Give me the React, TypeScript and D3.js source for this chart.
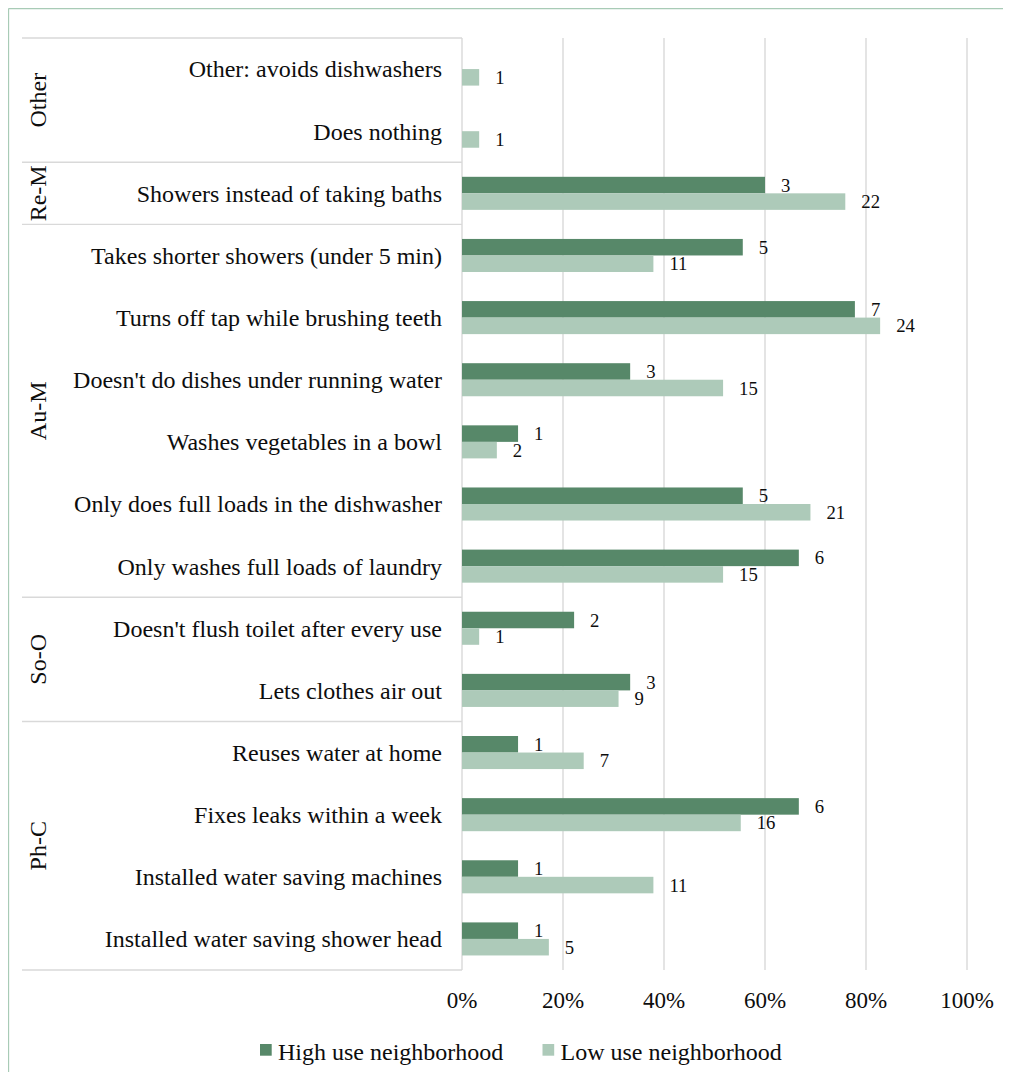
import React from "react";
import * as d3 from "d3";

// Survey of water-saving behaviours, share of respondents per neighbourhood type
const categories: string[] = [
  "Other: avoids dishwashers",
  "Does nothing",
  "Showers instead of taking baths",
  "Takes shorter showers (under 5 min)",
  "Turns off tap while brushing teeth",
  "Doesn't do dishes under running water",
  "Washes vegetables in a bowl",
  "Only does full loads in the dishwasher",
  "Only washes full loads of laundry",
  "Doesn't flush toilet after every use",
  "Lets clothes air out",
  "Reuses water at home",
  "Fixes leaks within a week",
  "Installed water saving machines",
  "Installed water saving shower head",
];

// share of respondents (0..1)
const highUse: number[] = [0, 0, 0.6, 0.556, 0.778, 0.333, 0.111, 0.556, 0.667, 0.222, 0.333, 0.111, 0.667, 0.111, 0.111];
const lowUse: number[] = [0.034, 0.034, 0.759, 0.379, 0.828, 0.517, 0.069, 0.69, 0.517, 0.034, 0.31, 0.241, 0.552, 0.379, 0.172];

// number of respondents shown beside each bar
const highCounts: (number | null)[] = [null, null, 3, 5, 7, 3, 1, 5, 6, 2, 3, 1, 6, 1, 1];
const lowCounts: (number | null)[] = [1, 1, 22, 11, 24, 15, 2, 21, 15, 1, 9, 7, 16, 11, 5];

// behaviour groups, top to bottom, with their number of rows
const groupNames: string[] = ["Other", "Re-M", "Au-M", "So-O", "Ph-C"];
const groupSizes: number[] = [2, 1, 6, 2, 4];

const ticks: number[] = [0, 0.2, 0.4, 0.6, 0.8, 1];

const seriesNames: string[] = ["High use neighborhood", "Low use neighborhood"];
const colors: string[] = ["#578869", "#adcab9"];

const FONT = "'Liberation Serif', 'Times New Roman', serif";
const FS_LABEL = 18.7;
const FS_AXIS = 24;
const FS_TICK = 23;

export default function App() {
  const W = 995;
  const H = 1064;

  const plotTop = 38;
  const plotBottom = 970;
  const x = d3.scaleLinear().domain([0, 1]).range([462, 967]);
  const y = d3.scaleBand<string>().domain(categories).range([plotTop, plotBottom]).padding(0);
  const inner = d3
    .scaleBand<string>()
    .domain(["high", "low"])
    .range([0, y.bandwidth()])
    .paddingInner(0)
    .paddingOuter(0.88);

  const gridColor = "#d9d9d9";
  const lineLeft = 22;
  const textColor = "#0d0d0d";

  // group boundaries
  const bounds: number[] = [0];
  groupSizes.forEach((s, i) => bounds.push(bounds[i] + s));

  const fmt = d3.format(".0%");

  return (
    <svg width={W} height={H} style={{ display: "block", overflow: "visible" }}>
      <g transform="translate(-8,-8)">
        {/* chart frame */}
        <line x1={8.5} x2={1011} y1={8.5} y2={8.5} stroke="#a8cbb6" strokeWidth={1.3} />
        <line x1={8.5} x2={8.5} y1={8.5} y2={1080} stroke="#a8cbb6" strokeWidth={1.3} />

        {/* vertical gridlines */}
        {ticks.map((t) => (
          <line key={t} x1={x(t)} x2={x(t)} y1={plotTop} y2={plotBottom} stroke={gridColor} strokeWidth={1.4} />
        ))}

        {/* group separators of the category axis */}
        {bounds.map((b, i) => {
          const yy = plotTop + b * y.step();
          return <line key={i} x1={lineLeft} x2={x(0)} y1={yy} y2={yy} stroke={gridColor} strokeWidth={1.4} />;
        })}

        {/* bars */}
        {categories.map((c, i) => (
          <g key={c}>
            {highUse[i] > 0 && (
              <rect
                x={x(0)}
                y={(y(c) as number) + (inner("high") as number)}
                width={x(highUse[i]) - x(0)}
                height={inner.bandwidth()}
                fill={colors[0]}
              />
            )}
            <rect
              x={x(0)}
              y={(y(c) as number) + (inner("low") as number)}
              width={x(lowUse[i]) - x(0)}
              height={inner.bandwidth()}
              fill={colors[1]}
            />
          </g>
        ))}

        {/* count labels */}
        {categories.map((c, i) => (
          <g key={"l" + c} fontFamily={FONT} fontSize={FS_LABEL} fill={textColor}>
            {highCounts[i] !== null && (
              <text
                x={x(highUse[i]) + 16}
                y={(y(c) as number) + (inner("high") as number) + inner.bandwidth() / 2}
                dy="0.35em"
              >
                {highCounts[i]}
              </text>
            )}
            {lowCounts[i] !== null && (
              <text
                x={x(lowUse[i]) + 16}
                y={(y(c) as number) + (inner("low") as number) + inner.bandwidth() / 2}
                dy="0.35em"
              >
                {lowCounts[i]}
              </text>
            )}
          </g>
        ))}

        {/* category labels */}
        {categories.map((c) => (
          <text
            key={"c" + c}
            x={442}
            y={(y(c) as number) + y.bandwidth() / 2}
            dy="0.35em"
            textAnchor="end"
            fontFamily={FONT}
            fontSize={FS_AXIS}
            fill={textColor}
          >
            {c}
          </text>
        ))}

        {/* group labels */}
        {groupNames.map((g, i) => {
          const cy = plotTop + ((bounds[i] + bounds[i + 1]) / 2) * y.step();
          return (
            <text
              key={g}
              transform={`translate(38,${cy}) rotate(-90)`}
              dy="0.35em"
              textAnchor="middle"
              fontFamily={FONT}
              fontSize={FS_AXIS}
              fill={textColor}
            >
              {g}
            </text>
          );
        })}

        {/* x tick labels */}
        {ticks.map((t) => (
          <text key={"t" + t} x={x(t)} y={1000} dy="0.35em" textAnchor="middle" fontFamily={FONT} fontSize={FS_TICK} fill={textColor}>
            {fmt(t)}
          </text>
        ))}

        {/* legend */}
        {seriesNames.map((s, i) => {
          const lx = i === 0 ? 260 : 542.5;
          return (
            <g key={s}>
              <rect x={lx} y={1044} width={11.7} height={11.7} fill={colors[i]} />
              <text x={lx + 18} y={1051.6} dy="0.35em" fontFamily={FONT} fontSize={FS_AXIS} fill={textColor}>
                {s}
              </text>
            </g>
          );
        })}
      </g>
    </svg>
  );
}
